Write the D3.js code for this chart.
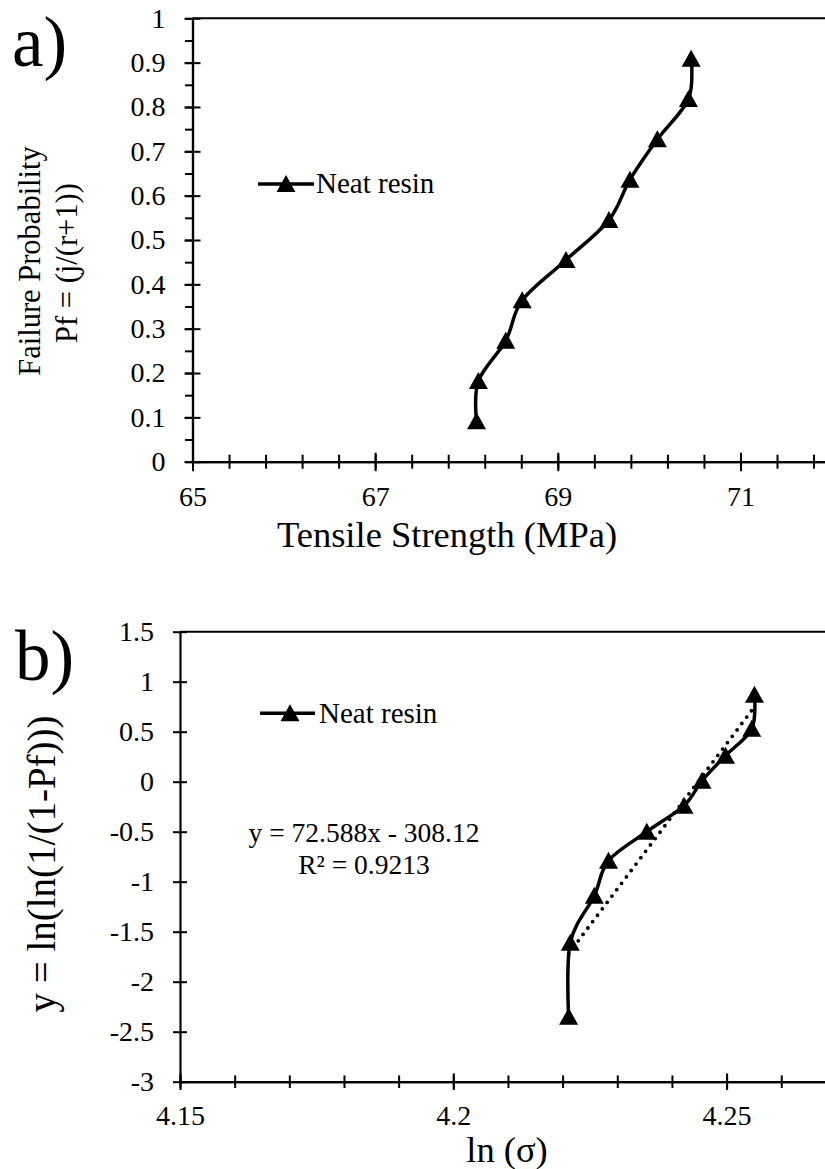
<!DOCTYPE html>
<html lang="en">
<head>
<meta charset="UTF-8"/>
<title>Weibull analysis - neat resin</title>
<script src="https://d3js.org/d3.v7.min.js"></script>
<style>
    body { margin: 0; background: #fff; }
    svg { display: block; }
    svg text { font-family: "Liberation Serif", "DejaVu Serif", serif; }
</style>
</head>
<body>
<script>
    // a) failure probability against tensile strength
    var strength = [68.11, 68.13, 68.43, 68.61, 69.09, 69.56, 69.79, 70.09, 70.43, 70.46];
    var failProb = [0.091, 0.182, 0.273, 0.364, 0.455, 0.545, 0.636, 0.727, 0.818, 0.909];

    // b) weibull plot, ln(sigma) against ln(ln(1/(1-Pf)))
    var lnStrength = [4.2211, 4.2214, 4.2258, 4.2284, 4.2354, 4.2422, 4.2455, 4.2498, 4.2546, 4.2551];
    var weibullY = [-2.35, -1.61, -1.14, -0.79, -0.50, -0.24, 0.01, 0.26, 0.53, 0.87];

    // trendline printed on b)
    var trendSlope = 72.588;
    var trendIntercept = -308.12;
    var trendText = ["y = 72.588x - 308.12", "R\u00B2 = 0.9213"];

    var seriesName = "Neat resin";

    // tick labels
    var aXTicks = [65, 67, 69, 71];
    var aYTicks = [0, 0.1, 0.2, 0.3, 0.4, 0.5, 0.6, 0.7, 0.8, 0.9, 1];
    var bXTicks = [4.15, 4.2, 4.25];
    var bYTicks = [-3, -2.5, -2, -1.5, -1, -0.5, 0, 0.5, 1, 1.5];

    var w = 825;
    var h = 1169;
    var serif = "Liberation Serif, DejaVu Serif, serif";
    var tickFont = 28;

    var svg = d3.select("body")
        .append("svg")
        .attr("width", w)
        .attr("height", h)
        .attr("font-family", serif);

    svg.append("rect").attr("width", w).attr("height", h).attr("fill", "#fff");

    // triangle marker like the excel one
    var triangle = {
        draw: function (context) {
            context.moveTo(0, -9);
            context.lineTo(9.5, 8);
            context.lineTo(-9.5, 8);
            context.closePath();
        }
    };
    var marker = d3.symbol().type(triangle);

    function fmt(d) { return String(d); }

    function crossTicks(g, axis, up, down) {
        // make tick lines cross the axis line
        if (axis == "x") {
            g.selectAll(".tick line").attr("y1", -up).attr("y2", down);
        } else {
            g.selectAll(".tick line").attr("x1", up).attr("x2", -down);
        }
    }

    function styleAxis(g, size) {
        g.attr("font-family", serif).attr("font-size", size + "px");
        g.selectAll("path.domain").attr("stroke", "#000").attr("stroke-width", 2.2);
        g.selectAll(".tick line").attr("stroke", "#000").attr("stroke-width", 2);
        g.selectAll(".tick text").attr("fill", "#000");
    }

    // ---------------- chart a ----------------
    var aX = d3.scaleLinear().domain([65, 72]).range([192.5, 831.8]);
    var aY = d3.scaleLinear().domain([0, 1]).range([461.7, 18.3]);

    var aXMinor = d3.range(0, 18).map(function (i) { return +(65 + i * 0.4).toFixed(1); });
    var aYMinor = d3.range(0, 21).map(function (i) { return +(i * 0.05).toFixed(2); });

    // top border
    svg.append("line")
        .attr("x1", aX(65)).attr("x2", aX(72))
        .attr("y1", aY(1)).attr("y2", aY(1))
        .attr("stroke", "#000").attr("stroke-width", 2);

    var gAxm = svg.append("g")
        .attr("transform", "translate(0," + aY(0) + ")")
        .call(d3.axisBottom(aX).tickValues(aXMinor).tickSize(7).tickSizeOuter(0).tickFormat(""));
    styleAxis(gAxm, tickFont);
    crossTicks(gAxm, "x", 7, 7);

    var gAx = svg.append("g")
        .attr("transform", "translate(0," + aY(0) + ")")
        .call(d3.axisBottom(aX).tickValues(aXTicks).tickSize(9.5).tickPadding(15).tickSizeOuter(0).tickFormat(fmt));
    styleAxis(gAx, tickFont);
    crossTicks(gAx, "x", 9, 9.5);

    var gAym = svg.append("g")
        .attr("transform", "translate(" + aX(65) + ",0)")
        .call(d3.axisLeft(aY).tickValues(aYMinor).tickSize(7.5).tickSizeOuter(0).tickFormat(""));
    styleAxis(gAym, tickFont);

    var gAy = svg.append("g")
        .attr("transform", "translate(" + aX(65) + ",0)")
        .call(d3.axisLeft(aY).tickValues(aYTicks).tickSize(8).tickPadding(19).tickSizeOuter(0).tickFormat(fmt));
    styleAxis(gAy, tickFont);
    crossTicks(gAy, "y", 8, 8);

    var aLine = d3.line()
        .x(function (d) { return aX(d[0]); })
        .y(function (d) { return aY(d[1]); })
        .curve(d3.curveCardinal.tension(0));

    var aData = d3.zip(strength, failProb);

    svg.append("path")
        .datum(aData)
        .attr("d", aLine)
        .attr("fill", "none")
        .attr("stroke", "#000")
        .attr("stroke-width", 3.5);

    svg.append("g").selectAll("path")
        .data(aData)
        .enter()
        .append("path")
        .attr("d", marker)
        .attr("transform", function (d) { return "translate(" + aX(d[0]) + "," + aY(d[1]) + ")"; })
        .attr("fill", "#000");

    // legend a
    svg.append("line").attr("x1", 258).attr("x2", 314).attr("y1", 184).attr("y2", 184)
        .attr("stroke", "#000").attr("stroke-width", 3.5);
    svg.append("path").attr("d", marker).attr("transform", "translate(286,184)").attr("fill", "#000");
    svg.append("text").attr("x", 316).attr("y", 193).attr("font-size", "29px").text(seriesName);

    // axis titles a
    svg.append("text")
        .attr("text-anchor", "middle")
        .attr("x", 447).attr("y", 547)
        .attr("font-size", "36.5px")
        .text("Tensile Strength (MPa)");

    svg.append("text")
        .attr("text-anchor", "middle")
        .attr("transform", "translate(40,261) rotate(-90)")
        .attr("font-size", "30.5px")
        .text("Failure Probability");
    svg.append("text")
        .attr("text-anchor", "middle")
        .attr("transform", "translate(77,263) rotate(-90)")
        .attr("font-size", "30.5px")
        .text("Pf = (j/(r+1))");

    svg.append("text").attr("x", 12).attr("y", 66).attr("font-size", "71px").text("a)");

    // ---------------- chart b ----------------
    var bX = d3.scaleLinear().domain([4.15, 4.27]).range([180, 835.9]);
    var bY = d3.scaleLinear().domain([-3, 1.5]).range([1081.7, 631.7]);

    var bXMinor = d3.range(0, 13).map(function (i) { return +(4.15 + i * 0.01).toFixed(2); });

    svg.append("line")
        .attr("x1", bX(4.15)).attr("x2", bX(4.27))
        .attr("y1", bY(1.5)).attr("y2", bY(1.5))
        .attr("stroke", "#000").attr("stroke-width", 2);

    var gBxm = svg.append("g")
        .attr("transform", "translate(0," + bY(-3) + ")")
        .call(d3.axisBottom(bX).tickValues(bXMinor).tickSize(6.3).tickSizeOuter(0).tickFormat(""));
    styleAxis(gBxm, tickFont);
    crossTicks(gBxm, "x", 6.3, 6.3);

    var gBx = svg.append("g")
        .attr("transform", "translate(0," + bY(-3) + ")")
        .call(d3.axisBottom(bX).tickValues(bXTicks).tickSize(8.3).tickPadding(15.5).tickSizeOuter(0).tickFormat(fmt));
    styleAxis(gBx, tickFont);
    crossTicks(gBx, "x", 8.3, 8.3);

    var gBy = svg.append("g")
        .attr("transform", "translate(" + bX(4.15) + ",0)")
        .call(d3.axisLeft(bY).tickValues(bYTicks).tickSize(7).tickPadding(19).tickSizeOuter(0).tickFormat(fmt));
    styleAxis(gBy, tickFont);
    crossTicks(gBy, "y", 7, 7);

    // dotted linear trendline over the data range
    var xLo = d3.min(lnStrength);
    var xHi = d3.max(lnStrength);
    svg.append("line")
        .attr("x1", bX(xLo)).attr("y1", bY(trendSlope * xLo + trendIntercept))
        .attr("x2", bX(xHi)).attr("y2", bY(trendSlope * xHi + trendIntercept))
        .attr("stroke", "#000")
        .attr("stroke-width", 3.8)
        .attr("stroke-linecap", "round")
        .attr("stroke-dasharray", "0 8");

    var bData = d3.zip(lnStrength, weibullY);

    var bLine = d3.line()
        .x(function (d) { return bX(d[0]); })
        .y(function (d) { return bY(d[1]); })
        .curve(d3.curveCardinal.tension(0));

    svg.append("path")
        .datum(bData)
        .attr("d", bLine)
        .attr("fill", "none")
        .attr("stroke", "#000")
        .attr("stroke-width", 3.5);

    svg.append("g").selectAll("path")
        .data(bData)
        .enter()
        .append("path")
        .attr("d", marker)
        .attr("transform", function (d) { return "translate(" + bX(d[0]) + "," + bY(d[1]) + ")"; })
        .attr("fill", "#000");

    // legend b
    svg.append("line").attr("x1", 260).attr("x2", 315).attr("y1", 713.3).attr("y2", 713.3)
        .attr("stroke", "#000").attr("stroke-width", 3.5);
    svg.append("path").attr("d", marker).attr("transform", "translate(290,713.3)").attr("fill", "#000");
    svg.append("text").attr("x", 319).attr("y", 722.5).attr("font-size", "29px").text(seriesName);

    // trendline equation
    svg.append("g").selectAll("text")
        .data(trendText)
        .enter()
        .append("text")
        .attr("text-anchor", "middle")
        .attr("x", 364)
        .attr("y", function (d, i) { return 842 + i * 31.5; })
        .attr("font-size", "27.5px")
        .text(function (d) { return d; });

    // axis titles b
    svg.append("text")
        .attr("text-anchor", "middle")
        .attr("x", 507).attr("y", 1162)
        .attr("font-size", "36.5px")
        .text("ln (\u03C3)");

    svg.append("text")
        .attr("text-anchor", "middle")
        .attr("transform", "translate(55,864) rotate(-90)")
        .attr("font-size", "39px")
        .text("y = ln(ln(1/(1-Pf)))");

    svg.append("text").attr("x", 15).attr("y", 680).attr("font-size", "71px").text("b)");
</script>
</body>
</html>
